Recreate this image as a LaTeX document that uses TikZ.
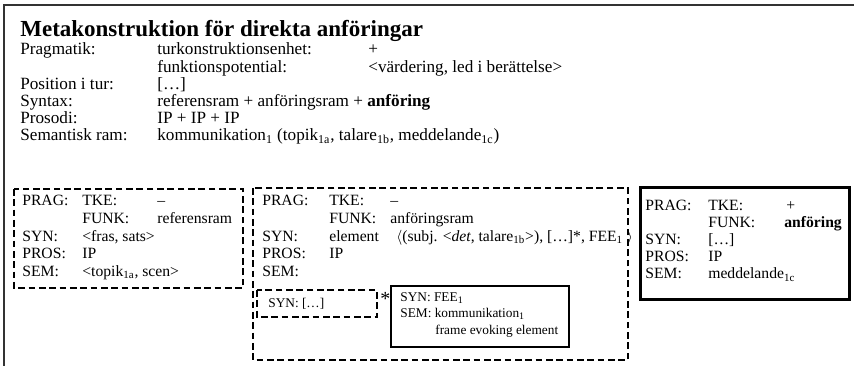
\documentclass[tikz,border=0pt]{standalone}
\usepackage{fontspec}
\setmainfont{Liberation Serif}
\tikzstyle{txt} = [anchor=base west, inner sep=0pt, font=\fontsize{10.3}{12}\selectfont]
\tikzstyle{fld} = [anchor=base west, inner sep=0pt, font=\fontsize{9.4}{11}\selectfont]
\tikzstyle{small} = [anchor=base west, inner sep=0pt, font=\fontsize{8}{10}\selectfont]
\tikzstyle{dashbox} = [line width=.8pt, dash pattern=on 4pt off 2.2pt]
\tikzstyle{solidbox} = [line width=.7pt]
\tikzstyle{thickbox} = [line width=1.8pt]
\newcommand{\ix}[1]{\textsubscript{#1}}

\begin{document}
\begin{tikzpicture}[x=0.6pt,y=-0.6pt]
	\useasboundingbox (0,0) rectangle (854,366);
	\draw[line width=1.2pt, black!80] (4,366) -- (4,5) -- (854,5);
	\node[txt, font=\fontsize{13.8}{16}\selectfont\bfseries] (title) at (20,37) {Metakonstruktion för direkta anföringar};
	% header rows
	\node[txt] (hPrag) at (20,55) {Pragmatik:};
	\node[txt] (hTke) at (157,55) {turkonstruktionsenhet:};
	\node[txt] (hTkeV) at (368,55) {+};
	\node[txt] (hFunk) at (157,72.2) {funktionspotential:};
	\node[txt] (hFunkV) at (368,72.2) {<värdering, led i berättelse>};
	\node[txt] (hPos) at (20,89.4) {Position i tur:};
	\node[txt] (hPosV) at (157,89.4) {[…]};
	\node[txt] (hSyn) at (20,106.6) {Syntax:};
	\node[txt] (hSynV) at (157,106.6) {referensram + anföringsram + \textbf{anföring}};
	\node[txt] (hPros) at (20,123.8) {Prosodi:};
	\node[txt] (hProsV) at (157,123.8) {IP + IP + IP};
	\node[txt] (hSem) at (20,141) {Semantisk ram:};
	\node[txt] (hSemV) at (157,141) {kommunikation\ix{1} (topik\ix{1a}, talare\ix{1b}, meddelande\ix{1c})};
	% referensram
	\draw[dashbox] (14,189) rectangle (243,288);
	\node[fld] (aPrag) at (22,206) {PRAG:};
	\node[fld] (aTke) at (82,206) {TKE:};
	\node[fld] (aTkeV) at (157,206) {–};
	\node[fld] (aFunk) at (82,223.5) {FUNK:};
	\node[fld] (aFunkV) at (157,223.5) {referensram};
	\node[fld] (aSyn) at (22,241) {SYN:};
	\node[fld] (aSynV) at (82,241) {<fras, sats>};
	\node[fld] (aPros) at (22,258.5) {PROS:};
	\node[fld] (aProsV) at (82,258.5) {IP};
	\node[fld] (aSem) at (22,276) {SEM:};
	\node[fld] (aSemV) at (82,276) {<topik\ix{1a}, scen>};
	% anföringsram
	\draw[dashbox] (253,188) rectangle (628,360);
	\node[fld] (bPrag) at (262,206) {PRAG:};
	\node[fld] (bTke) at (329,206) {TKE:};
	\node[fld] (bTkeV) at (390,206) {–};
	\node[fld] (bFunk) at (329,223.5) {FUNK:};
	\node[fld] (bFunkV) at (390,223.5) {anföringsram};
	\node[fld] (bSyn) at (262,241) {SYN:};
	\node[fld] (bSynV) at (329,241) {element};
	\node[fld] (bSynW) at (396,241) {$\langle$(subj. <\textit{det}, talare\ix{1b}>), […]*, FEE\ix{1} $\rangle$};
	\node[fld] (bPros) at (262,258.5) {PROS:};
	\node[fld] (bProsV) at (329,258.5) {IP};
	\node[fld] (bSem) at (262,276) {SEM:};
	\draw[dashbox] (257,290) rectangle (377,317);
	\node[small] (cSyn) at (268,307) {SYN: […]};
	\node[txt, font=\fontsize{12}{12}\selectfont] (star) at (380,305) {*};
	\draw[solidbox] (391,286) rectangle (569,347);
	\node[small] (dSyn) at (400,301) {SYN: FEE\ix{1}};
	\node[small] (dSem) at (400,317.5) {SEM: kommunikation\ix{1}};
	\node[small] (dFee) at (435,334) {frame evoking element};
	% anföring
	\draw[thickbox] (640,188) rectangle (849,299);
	\node[fld] (ePrag) at (645,211) {PRAG:};
	\node[fld] (eTke) at (708,211) {TKE:};
	\node[fld] (eTkeV) at (786,211) {+};
	\node[fld] (eFunk) at (708,228) {FUNK:};
	\node[fld] (eFunkV) at (784,228) {\textbf{anföring}};
	\node[fld] (eSyn) at (645,245) {SYN:};
	\node[fld] (eSynV) at (708,245) {[…]};
	\node[fld] (ePros) at (645,262) {PROS:};
	\node[fld] (eProsV) at (708,262) {IP};
	\node[fld] (eSem) at (645,279) {SEM:};
	\node[fld] (eSemV) at (708,279) {meddelande\ix{1c}};
\end{tikzpicture}
\end{document}
